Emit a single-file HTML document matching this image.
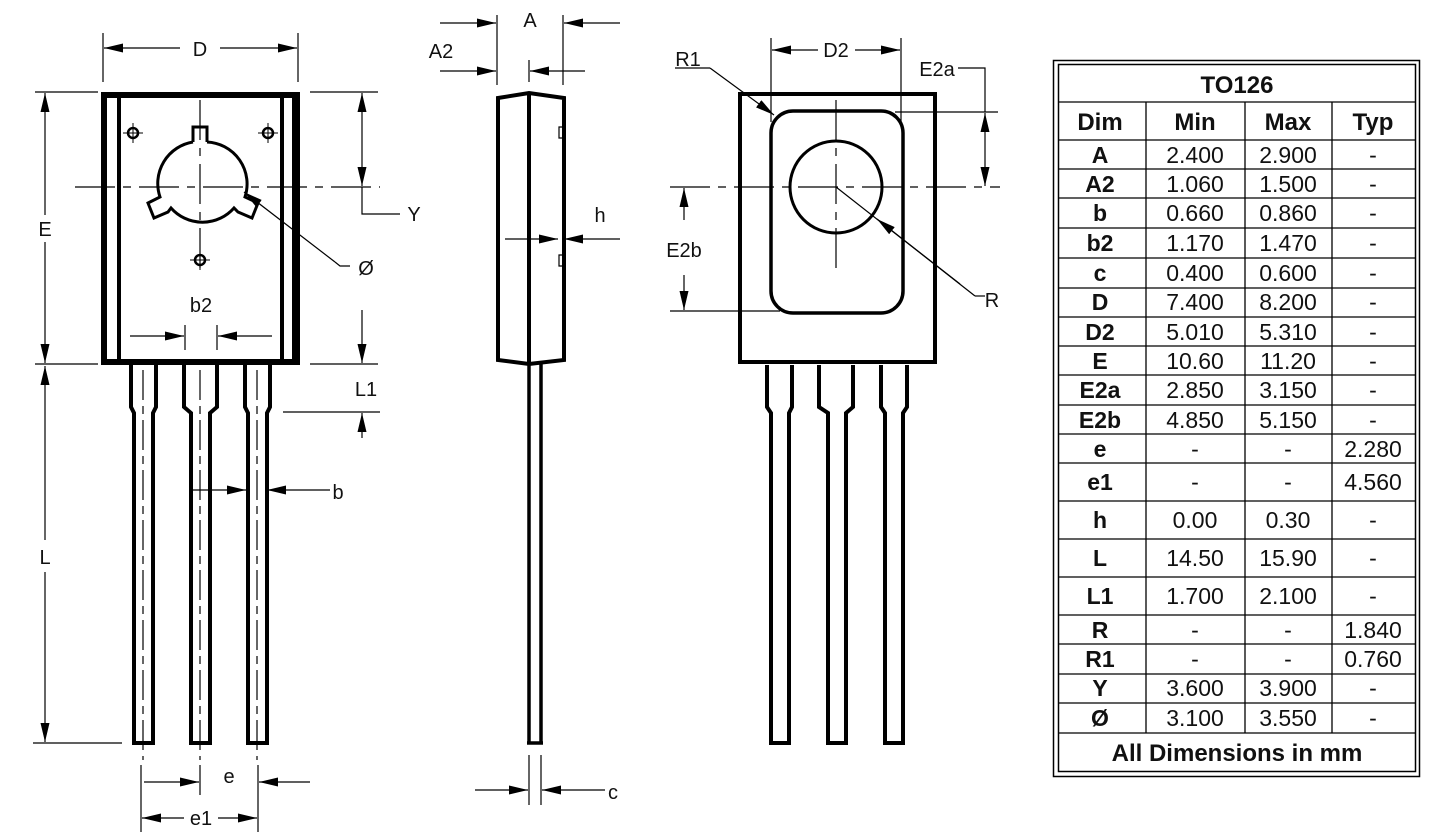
<!DOCTYPE html>
<html><head><meta charset="utf-8"><style>
html,body{margin:0;padding:0;background:#fff;}
svg{display:block;}
text{font-family:"Liberation Sans",sans-serif;fill:#111;}
</style></head><body>
<svg width="1444" height="839" viewBox="0 0 1444 839" xmlns="http://www.w3.org/2000/svg">
<defs>
<marker id="a" markerUnits="userSpaceOnUse" markerWidth="20" markerHeight="10" refX="19" refY="4.5" orient="auto-start-reverse"><path d="M0,0 L19,4.5 L0,9 z" fill="#000"/></marker>
</defs>
<rect width="1444" height="839" fill="#fff"/>

<!-- ===== LEFT VIEW ===== -->
<g stroke="#000" fill="none">
<g stroke-width="4" fill="#fff">
<path d="M131,365 V407 L134,413 V743 H153 V413 L156,407 V365"/>
<path d="M184,365 V407 L191,413 V743 H210 V413 L217,407 V365"/>
<path d="M245,365 V407 L248,413 V743 H267 V413 L270,407 V365"/>
</g>
<g stroke-width="1.2" stroke-dasharray="30,6,8,6">
<line x1="143" y1="370" x2="143" y2="760"/>
<line x1="200" y1="370" x2="200" y2="760"/>
<line x1="257" y1="370" x2="257" y2="760"/>
</g>
<rect x="104" y="95" width="193" height="267" stroke-width="6" fill="#fff"/>
<line x1="119" y1="96" x2="119" y2="362" stroke-width="4"/>
<line x1="282" y1="96" x2="282" y2="362" stroke-width="4"/>
<line x1="293" y1="96" x2="293" y2="362" stroke-width="2"/>
<line x1="104" y1="362" x2="297" y2="362" stroke-width="6"/>
<g stroke-width="1.2" stroke-dasharray="40,8,8,8">
<line x1="75" y1="187" x2="380" y2="187"/>
<line x1="200" y1="100" x2="200" y2="272"/>
</g>
<path d="M193,142 V127 H207 V142" stroke-width="3"/>
<path d="M193,142 A42,42 0 0 0 160,197 L148,203 L154,218 L168,212 L171,208 A42,42 0 0 0 234,208 L238,212 L252,218 L258,203 L245,197 A42,42 0 0 0 207,142" stroke-width="3"/>
<g stroke-width="2.5"><circle cx="133" cy="133" r="5"/><circle cx="268" cy="133" r="5"/><circle cx="200" cy="260" r="5"/></g>
<g stroke-width="1"><path d="M123,133h20M133,123v20M258,133h20M268,123v20M190,260h20M200,250v20"/></g>

<g stroke-width="1.2">
<line x1="103" y1="33" x2="103" y2="82"/><line x1="298" y1="33" x2="298" y2="82"/>
<line x1="180" y1="48" x2="104" y2="48" marker-end="url(#a)"/>
<line x1="220" y1="48" x2="297" y2="48" marker-end="url(#a)"/>
<line x1="35" y1="92" x2="98" y2="92"/><line x1="35" y1="364" x2="98" y2="364"/>
<line x1="45" y1="215" x2="45" y2="93" marker-end="url(#a)"/>
<line x1="45" y1="242" x2="45" y2="363" marker-end="url(#a)"/>
<line x1="45" y1="540" x2="45" y2="366" marker-end="url(#a)"/>
<line x1="45" y1="572" x2="45" y2="742" marker-end="url(#a)"/>
<line x1="33" y1="743" x2="122" y2="743"/>
<line x1="310" y1="92" x2="378" y2="92"/>
<line x1="362" y1="140" x2="362" y2="93" marker-end="url(#a)"/>
<line x1="362" y1="140" x2="362" y2="186" marker-end="url(#a)"/>
<polyline points="362,187 362,214 400,214"/>
<line x1="362" y1="310" x2="362" y2="363" marker-end="url(#a)"/>
<line x1="310" y1="364" x2="378" y2="364"/>
<line x1="283" y1="412" x2="380" y2="412"/>
<line x1="362" y1="438" x2="362" y2="413" marker-end="url(#a)"/>
<line x1="335" y1="262" x2="244" y2="192" marker-end="url(#a)"/>
<polyline points="335,262 340,266 350,266"/>
<line x1="185" y1="325" x2="185" y2="350"/><line x1="217" y1="325" x2="217" y2="350"/>
<line x1="130" y1="336" x2="184" y2="336" marker-end="url(#a)"/>
<line x1="272" y1="336" x2="218" y2="336" marker-end="url(#a)"/>
<line x1="193" y1="490" x2="246" y2="490" marker-end="url(#a)"/>
<line x1="330" y1="490" x2="267" y2="490" marker-end="url(#a)"/>
<line x1="141" y1="765" x2="141" y2="832"/><line x1="200" y1="765" x2="200" y2="795"/><line x1="258" y1="765" x2="258" y2="832"/>
<line x1="144" y1="782" x2="199" y2="782" marker-end="url(#a)"/>
<line x1="310" y1="782" x2="259" y2="782" marker-end="url(#a)"/>
<line x1="184" y1="818" x2="142" y2="818" marker-end="url(#a)"/>
<line x1="218" y1="818" x2="257" y2="818" marker-end="url(#a)"/>
</g>
</g>
<g font-size="20" text-anchor="middle">
<text x="200" y="56">D</text>
<text x="45" y="236">E</text>
<text x="45" y="564">L</text>
<text x="414" y="221">Y</text>
<text x="366" y="275">Ø</text>
<text x="366" y="396">L1</text>
<text x="201" y="312">b2</text>
<text x="338" y="499">b</text>
<text x="229" y="783">e</text>
<text x="201" y="825">e1</text>
</g>

<!-- ===== SIDE VIEW ===== -->
<g stroke="#000" fill="none">
<line x1="529" y1="364" x2="529" y2="743" stroke-width="3.5"/>
<line x1="541" y1="362" x2="541" y2="743" stroke-width="3.5"/>
<line x1="527" y1="743" x2="543" y2="743" stroke-width="3.5"/>
<path d="M498,98 L529,93 L564,98 V360 L529,364 L498,360 Z" stroke-width="4" fill="#fff"/>
<line x1="529" y1="93" x2="529" y2="364" stroke-width="4"/>
<path d="M562,127 H559 V138 H562 M562,255 H559 V266 H562" stroke-width="1.2"/>
<g stroke-width="1.2">
<line x1="497" y1="15" x2="497" y2="85"/><line x1="563" y1="15" x2="563" y2="85"/>
<line x1="440" y1="23" x2="496" y2="23" marker-end="url(#a)"/>
<line x1="620" y1="23" x2="564" y2="23" marker-end="url(#a)"/>
<line x1="440" y1="71" x2="496" y2="71" marker-end="url(#a)"/>
<line x1="529" y1="60" x2="529" y2="82"/>
<line x1="585" y1="71" x2="530" y2="71" marker-end="url(#a)"/>
<line x1="505" y1="239" x2="558" y2="239" marker-end="url(#a)"/>
<line x1="620" y1="239" x2="564" y2="239" marker-end="url(#a)"/>
<line x1="529" y1="755" x2="529" y2="805"/><line x1="541" y1="755" x2="541" y2="805"/>
<line x1="475" y1="790" x2="528" y2="790" marker-end="url(#a)"/>
<line x1="605" y1="790" x2="542" y2="790" marker-end="url(#a)"/>
</g>
</g>
<g font-size="20" text-anchor="middle">
<text x="530" y="27">A</text>
<text x="441" y="58">A2</text>
<text x="600" y="222">h</text>
<text x="613" y="799">c</text>
</g>

<!-- ===== RIGHT VIEW ===== -->
<g stroke="#000" fill="none">
<g stroke-width="4" fill="#fff">
<path d="M767,365 V407 L771,413 V743 H789 V413 L792,407 V365"/>
<path d="M819,365 V407 L828,413 V743 H846 V413 L853,407 V365"/>
<path d="M881,365 V407 L885,413 V743 H903 V413 L907,407 V365"/>
</g>
<rect x="740" y="94" width="195" height="268" stroke-width="4" fill="#fff"/>
<rect x="771" y="111" width="132" height="202" rx="22" stroke-width="3.5"/>
<circle cx="836" cy="187" r="46" stroke-width="3"/>
<g stroke-width="1.2" stroke-dasharray="40,8,8,8">
<line x1="670" y1="187" x2="1000" y2="187"/>
<line x1="836" y1="100" x2="836" y2="270"/>
</g>
<g stroke-width="1.2">
<line x1="771" y1="38" x2="771" y2="122"/><line x1="901" y1="38" x2="901" y2="122"/>
<line x1="818" y1="50" x2="772" y2="50" marker-end="url(#a)"/>
<line x1="855" y1="50" x2="900" y2="50" marker-end="url(#a)"/>
<polyline points="675,68 710,68" fill="none"/>
<line x1="710" y1="68" x2="774" y2="115" marker-end="url(#a)"/>
<polyline points="958,68 985,68 985,112"/>
<line x1="895" y1="112" x2="998" y2="112"/>
<line x1="985" y1="150" x2="985" y2="113" marker-end="url(#a)"/>
<line x1="985" y1="150" x2="985" y2="186" marker-end="url(#a)"/>
<line x1="684" y1="220" x2="684" y2="188" marker-end="url(#a)"/>
<line x1="684" y1="275" x2="684" y2="310" marker-end="url(#a)"/>
<line x1="670" y1="311" x2="780" y2="311"/>
<line x1="836" y1="187" x2="975" y2="296"/>
<line x1="960" y1="284" x2="877" y2="219" marker-end="url(#a)"/>
<line x1="975" y1="296" x2="985" y2="296"/>
</g>
</g>
<g font-size="20" text-anchor="middle">
<text x="836" y="57">D2</text>
<text x="688" y="66">R1</text>
<text x="937" y="76">E2a</text>
<text x="684" y="257">E2b</text>
<text x="992" y="307">R</text>
</g>

<!-- ===== TABLE ===== -->
<g stroke="#000" fill="none">
<rect x="1053.5" y="60.5" width="366" height="716" stroke-width="1.5"/>
<rect x="1058.5" y="64.5" width="357" height="707" stroke-width="1.5"/>
<g stroke-width="1.3">
<line x1="1146" y1="102" x2="1146" y2="733"/>
<line x1="1245" y1="102" x2="1245" y2="733"/>
<line x1="1332" y1="102" x2="1332" y2="733"/>
<path d="M1059,102H1415M1059,140H1415M1059,169H1415M1059,198H1415M1059,228H1415M1059,258H1415M1059,288H1415M1059,317H1415M1059,346H1415M1059,375H1415M1059,405H1415M1059,434H1415M1059,463H1415M1059,501H1415M1059,539H1415M1059,577H1415M1059,615H1415M1059,644H1415M1059,674H1415M1059,703H1415M1059,733H1415"/>
</g>
</g>
<g text-anchor="middle" font-size="23">
<text x="1237" y="93" font-weight="bold" font-size="24">TO126</text>
<g font-weight="bold" font-size="24">
<text x="1100" y="130">Dim</text><text x="1195" y="130">Min</text><text x="1288" y="130">Max</text><text x="1373" y="130">Typ</text>
</g>
<g font-weight="bold">
<text x="1100" y="163">A</text><text x="1100" y="192">A2</text><text x="1100" y="221">b</text><text x="1100" y="251">b2</text><text x="1100" y="281">c</text><text x="1100" y="310">D</text><text x="1100" y="340">D2</text><text x="1100" y="369">E</text><text x="1100" y="398">E2a</text><text x="1100" y="428">E2b</text><text x="1100" y="457">e</text><text x="1100" y="490">e1</text><text x="1100" y="528">h</text><text x="1100" y="566">L</text><text x="1100" y="604">L1</text><text x="1100" y="638">R</text><text x="1100" y="667">R1</text><text x="1100" y="696">Y</text><text x="1100" y="726">Ø</text>
</g>
<g>
<text x="1195" y="163">2.400</text><text x="1288" y="163">2.900</text><text x="1373" y="163">-</text>
<text x="1195" y="192">1.060</text><text x="1288" y="192">1.500</text><text x="1373" y="192">-</text>
<text x="1195" y="221">0.660</text><text x="1288" y="221">0.860</text><text x="1373" y="221">-</text>
<text x="1195" y="251">1.170</text><text x="1288" y="251">1.470</text><text x="1373" y="251">-</text>
<text x="1195" y="281">0.400</text><text x="1288" y="281">0.600</text><text x="1373" y="281">-</text>
<text x="1195" y="310">7.400</text><text x="1288" y="310">8.200</text><text x="1373" y="310">-</text>
<text x="1195" y="340">5.010</text><text x="1288" y="340">5.310</text><text x="1373" y="340">-</text>
<text x="1195" y="369">10.60</text><text x="1288" y="369">11.20</text><text x="1373" y="369">-</text>
<text x="1195" y="398">2.850</text><text x="1288" y="398">3.150</text><text x="1373" y="398">-</text>
<text x="1195" y="428">4.850</text><text x="1288" y="428">5.150</text><text x="1373" y="428">-</text>
<text x="1195" y="457">-</text><text x="1288" y="457">-</text><text x="1373" y="457">2.280</text>
<text x="1195" y="490">-</text><text x="1288" y="490">-</text><text x="1373" y="490">4.560</text>
<text x="1195" y="528">0.00</text><text x="1288" y="528">0.30</text><text x="1373" y="528">-</text>
<text x="1195" y="566">14.50</text><text x="1288" y="566">15.90</text><text x="1373" y="566">-</text>
<text x="1195" y="604">1.700</text><text x="1288" y="604">2.100</text><text x="1373" y="604">-</text>
<text x="1195" y="638">-</text><text x="1288" y="638">-</text><text x="1373" y="638">1.840</text>
<text x="1195" y="667">-</text><text x="1288" y="667">-</text><text x="1373" y="667">0.760</text>
<text x="1195" y="696">3.600</text><text x="1288" y="696">3.900</text><text x="1373" y="696">-</text>
<text x="1195" y="726">3.100</text><text x="1288" y="726">3.550</text><text x="1373" y="726">-</text>
</g>
<text x="1237" y="761" font-weight="bold" font-size="24">All Dimensions in mm</text>
</g>
</svg>
</body></html>
